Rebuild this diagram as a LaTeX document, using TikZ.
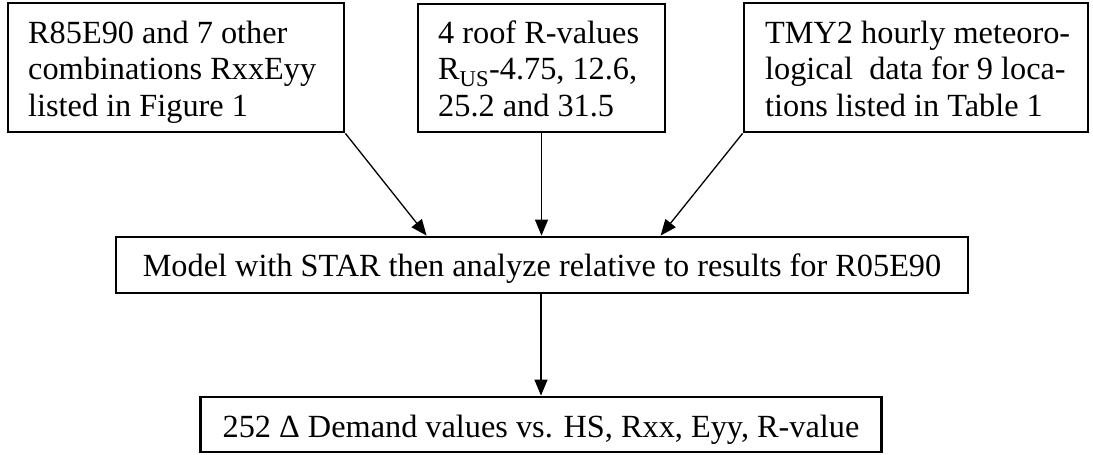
\documentclass[tikz,border=0pt]{standalone}
\usepackage{fontspec}
\setmainfont{Liberation Serif}
\usetikzlibrary{arrows.meta,calc}
\begin{document}
\begin{tikzpicture}[x=1pt,y=-1pt,
  frame/.style={draw=black, line width=2.8pt, inner sep=0pt},
  txt/.style={inner sep=0pt, align=left, font=\fontsize{32.3pt}{36.5pt}\selectfont},
  arr/.style={draw=black, line width=1.3pt, -{Triangle[length=16pt,width=13pt]}}
]
\useasboundingbox (0,0) rectangle (1093,455);
% top boxes
\node[frame, minimum width=336pt, minimum height=129pt] (b1) at (176,67.5) {};
\node[frame, minimum width=247pt, minimum height=128pt] (b2) at (541.5,68) {};
\node[frame, minimum width=344pt, minimum height=129pt] (b3) at (916,67.5) {};
\node[txt, anchor=north west] (t1) at (28,19) {\rule{0pt}{24pt}R85E90 and 7 other\\combinations RxxEyy\\listed in Figure 1};
\node[txt, anchor=north west] (t2) at (438,19) {\rule{0pt}{24pt}4 roof R-values\\R\textsubscript{US}-4.75, 12.6,\\25.2 and 31.5};
\node[txt, anchor=north west] (t3) at (765,19) {\rule{0pt}{24pt}TMY2 hourly meteoro-\\logical\ \ data for 9 loca-\\tions listed in Table 1};
% middle box
\node[frame, minimum width=852pt, minimum height=56pt, font=\fontsize{32.3pt}{36.5pt}\selectfont, text height=29pt, text depth=7pt] (m) at (542,265) {Model with STAR then analyze relative to results for R05E90};
% bottom box
\node[frame, inner xsep=22pt, minimum height=55pt, font=\fontsize{32.3pt}{36.5pt}\selectfont, text height=32pt, text depth=7pt] (r) at (541,424.5) {252 Δ Demand values vs. HS, Rxx, Eyy, R-value};
% connectors
\draw[arr] (b1.south east) -- ($(m.north west)+(312,0)$);
\draw[arr] (b2.south) -- (b2.south |- m.north);
\draw[arr] (b3.south west) -- ($(m.north west)+(546,0)$);
\draw[arr] (m.south -| r.north) -- (r.north);
\end{tikzpicture}
\end{document}
